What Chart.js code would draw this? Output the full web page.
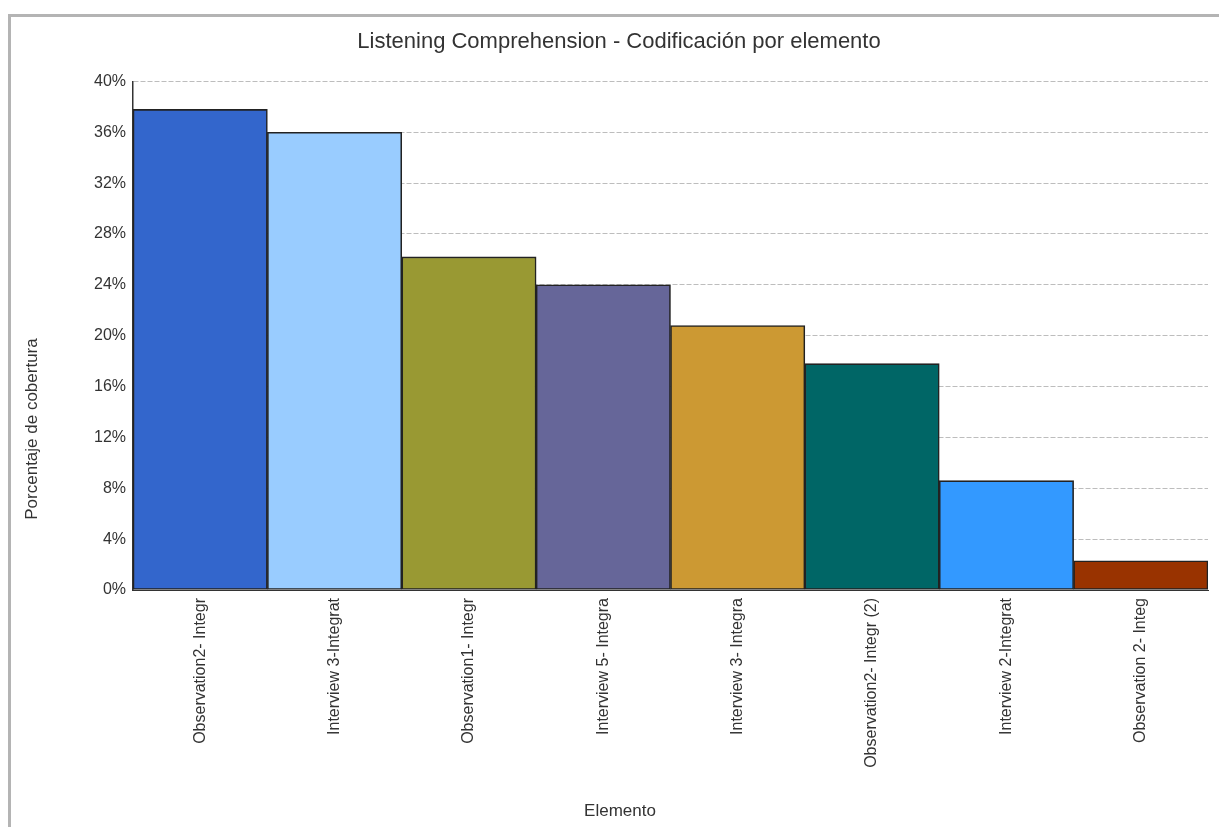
<!DOCTYPE html>
<html>
<head>
<meta charset="utf-8">
<script src="https://cdn.jsdelivr.net/npm/chart.js@4/dist/chart.umd.min.js"></script>
<style>
  html, body { margin: 0; padding: 0; background: #fff; overflow: hidden; }
  #wrap { position: relative; width: 1219px; height: 827px; }
  #frame {
    position: absolute; left: 8px; top: 14px; width: 1300px; height: 900px;
    border-left: 3px solid #b4b4b4; border-top: 3px solid #b4b4b4;
    box-sizing: border-box;
  }
  canvas { position: absolute; left: 0; top: 0; }
</style>
</head>
<body>
<div id="wrap">
  <div id="frame"></div>
  <canvas id="c" width="1219" height="827"></canvas>
</div>
<script>
// Coverage by document
const categories = [
  'Observation2- Integr',
  'Interview 3-Integrat',
  'Observation1- Integr',
  'Interview 5- Integra',
  'Interview 3- Integra',
  'Observation2- Integr (2)',
  'Interview 2-Integrat',
  'Observation 2- Integ'
];
const coverage = [37.8, 36.0, 26.2, 24.0, 20.8, 17.8, 8.6, 2.3];
const barColors = ['#3366CC', '#99CCFF', '#999933', '#666699', '#CC9933', '#006666', '#3399FF', '#993300'];
const yTicks = [0, 4, 8, 12, 16, 20, 24, 28, 32, 36, 40];

const chartTitle = 'Listening Comprehension - Codificación por elemento';
const yAxisTitle = 'Porcentaje de cobertura';
const xAxisTitle = 'Elemento';

const FONT = "'Liberation Sans', Arial, sans-serif";
Chart.defaults.font.family = FONT;
Chart.defaults.color = '#333';

// Axis titles are centred on the whole frame rather than the plot area
const axisTitles = {
  id: 'axisTitles',
  afterDraw(chart) {
    const ctx = chart.ctx;
    ctx.save();
    ctx.fillStyle = '#333';
    ctx.font = '17px ' + FONT;
    ctx.textAlign = 'center';
    ctx.textBaseline = 'middle';
    ctx.fillText(xAxisTitle, 620, 811);
    ctx.translate(32, 429);
    ctx.rotate(-Math.PI / 2);
    ctx.fillText(yAxisTitle, 0, 0);
    ctx.restore();
  }
};

new Chart(document.getElementById('c'), {
  type: 'bar',
  data: {
    labels: categories,
    datasets: [{
      data: coverage,
      backgroundColor: barColors,
      borderColor: '#222',
      borderWidth: 1.6,
      borderSkipped: false,
      categoryPercentage: 1,
      barPercentage: 1
    }]
  },
  options: {
    responsive: false,
    animation: false,
    layout: { padding: { left: 30, right: 11, top: 0, bottom: 0 } },
    plugins: {
      legend: { display: false },
      tooltip: { enabled: false },
      title: {
        display: true,
        text: chartTitle,
        color: '#333',
        font: { size: 22, weight: 'normal' },
        padding: { top: 29, bottom: 26 }
      }
    },
    scales: {
      x: {
        grid: { display: false, drawTicks: false },
        border: { display: true, color: '#333', width: 1 },
        ticks: {
          minRotation: 90,
          maxRotation: 90,
          autoSkip: false,
          padding: 8,
          color: '#333',
          font: { size: 16 }
        },
        afterFit(scale) { scale.height = 237; }
      },
      y: {
        min: 0,
        max: 40,
        afterBuildTicks(scale) { scale.ticks = yTicks.map(v => ({ value: v })); },
        grid: {
          color: '#bdbdbd',
          lineWidth: 1,
          drawTicks: false
        },
        border: { display: true, color: '#333', width: 1.5, dash: [5, 2] },
        ticks: {
          padding: 7,
          color: '#333',
          font: { size: 16 },
          callback: v => v + '%'
        },
        afterFit(scale) { scale.width = 103; }
      }
    }
  },
  plugins: [axisTitles]
});
</script>
</body>
</html>
